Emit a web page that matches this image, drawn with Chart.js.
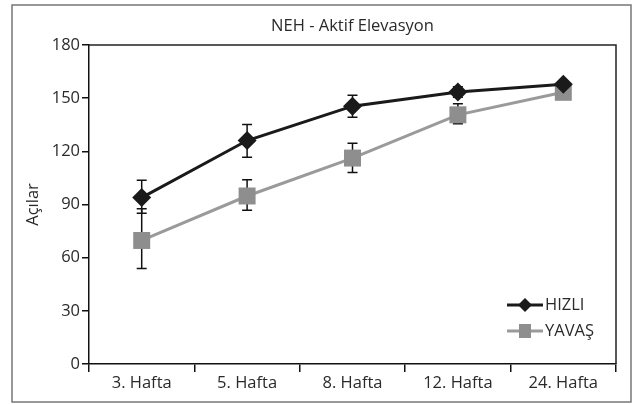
<!DOCTYPE html>
<html>
<head>
<meta charset="utf-8">
<script src="https://cdn.jsdelivr.net/npm/chart.js@4.4.1/dist/chart.umd.min.js"></script>
<style>
  html, body { margin: 0; padding: 0; background: #fff; }
  #wrap { width: 632px; height: 404px; position: relative; }
</style>
</head>
<body>
<div id="wrap"><canvas id="c" width="632" height="404"></canvas></div>
<script>
// Weeks after surgery and mean active elevation (degrees) with error limits
const weeks = ['3. Hafta', '5. Hafta', '8. Hafta', '12. Hafta', '24. Hafta'];

const hizli     = [93.9, 126.1, 145.5, 153.5, 157.8];
const hizliHigh = [103.7, 135.1, 151.6, 156.5, 159.5];
const hizliLow  = [85.0, 116.6, 139.3, 150.5, 156.0];

const yavas     = [69.7, 94.8, 116.2, 140.6, 153.3];
const yavasHigh = [87.6, 103.9, 124.5, 146.9, 155.5];
const yavasLow  = [53.9, 86.7, 108.1, 135.5, 151.0];

const yTicks = [0, 30, 60, 90, 120, 150, 180];

const chartTitle = 'NEH - Aktif Elevasyon';
const yTitle = 'Açılar';

const FONT = "'Open Sans', 'Noto Sans', sans-serif";
const FS = 16.5;
const TEXT = '#2a2a2a';

// Outer frame, plot box, error bars, title and inset legend
const decor = {
  id: 'decor',
  beforeDraw(chart) {
    const { ctx } = chart;
    ctx.save();
    ctx.fillStyle = '#fff';
    ctx.fillRect(0, 0, chart.width, chart.height);
    ctx.strokeStyle = '#777';
    ctx.lineWidth = 1.5;
    ctx.strokeRect(12, 5, 619, 397);
    ctx.restore();
  },
  beforeDatasetsDraw(chart) {
    const { ctx, chartArea: a, scales: { x, y } } = chart;
    ctx.save();
    // top and right edges of the plot box
    ctx.strokeStyle = '#222';
    ctx.lineWidth = 1.5;
    ctx.beginPath();
    ctx.moveTo(a.left, a.top);
    ctx.lineTo(a.right, a.top);
    ctx.lineTo(a.right, a.bottom);
    ctx.stroke();

    // title centred over the plot
    ctx.fillStyle = TEXT;
    ctx.font = FS + 'px ' + FONT;
    ctx.textAlign = 'center';
    ctx.textBaseline = 'middle';
    ctx.fillText(chartTitle, (a.left + a.right) / 2, 26);

    // error bars
    const cap = 5;
    ctx.strokeStyle = '#111';
    ctx.lineWidth = 1.5;
    const bars = [[hizliLow, hizliHigh], [yavasLow, yavasHigh]];
    bars.forEach(([lo, hi]) => {
      weeks.forEach((w, i) => {
        const px = x.getPixelForValue(i);
        const y1 = y.getPixelForValue(lo[i]);
        const y2 = y.getPixelForValue(hi[i]);
        ctx.beginPath();
        ctx.moveTo(px, y1); ctx.lineTo(px, y2);
        ctx.moveTo(px - cap, y1); ctx.lineTo(px + cap, y1);
        ctx.moveTo(px - cap, y2); ctx.lineTo(px + cap, y2);
        ctx.stroke();
      });
    });
    ctx.restore();
  },
  afterDatasetsDraw(chart) {
    const { ctx } = chart;
    ctx.save();
    const x0 = 507, x1 = 543, rows = [305, 331];
    chart.data.datasets.forEach((ds, i) => {
      const yy = rows[i];
      ctx.strokeStyle = ds.borderColor;
      ctx.lineWidth = ds.borderWidth;
      ctx.beginPath();
      ctx.moveTo(x0, yy); ctx.lineTo(x1, yy);
      ctx.stroke();
      const mx = (x0 + x1) / 2;
      ctx.fillStyle = ds.pointBackgroundColor;
      ctx.beginPath();
      if (ds.pointStyle === 'rectRot') {
        const r = 7;
        ctx.moveTo(mx, yy - r); ctx.lineTo(mx + r, yy);
        ctx.lineTo(mx, yy + r); ctx.lineTo(mx - r, yy);
        ctx.closePath();
      } else {
        ctx.rect(mx - 6, yy - 7, 12, 14);
      }
      ctx.fill();
      ctx.fillStyle = TEXT;
      ctx.font = FS + 'px ' + FONT;
      ctx.textAlign = 'left';
      ctx.textBaseline = 'middle';
      ctx.fillText(ds.label, x1 + 2, yy);
    });
    ctx.restore();
  }
};

new Chart(document.getElementById('c'), {
  type: 'line',
  data: {
    labels: weeks,
    datasets: [
      {
        label: 'HIZLI',
        data: hizli,
        borderColor: '#1a1a1a',
        backgroundColor: '#1a1a1a',
        pointBackgroundColor: '#1a1a1a',
        pointBorderColor: '#1a1a1a',
        borderWidth: 3,
        pointStyle: 'rectRot',
        pointRadius: 9.5,
        pointBorderWidth: 0,
        tension: 0
      },
      {
        label: 'YAVAŞ',
        data: yavas,
        borderColor: '#9a9a9a',
        backgroundColor: '#8e8e8e',
        pointBackgroundColor: '#8e8e8e',
        pointBorderColor: '#8e8e8e',
        borderWidth: 3,
        pointStyle: 'rect',
        pointRadius: 12,
        pointBorderWidth: 0,
        tension: 0
      }
    ]
  },
  options: {
    responsive: false,
    animation: false,
    devicePixelRatio: 1,
    layout: { padding: { left: 12, right: 16, top: 45, bottom: 0 } },
    plugins: {
      legend: { display: false },
      title: { display: false },
      tooltip: { enabled: false }
    },
    scales: {
      x: {
        offset: true,
        grid: {
          offset: true,
          drawOnChartArea: false,
          drawTicks: true,
          tickLength: 8,
          color: '#111',
          lineWidth: 1.5
        },
        border: { display: true, color: '#111', width: 1.5 },
        ticks: { color: TEXT, font: { family: FONT, size: FS }, padding: 1, maxRotation: 0 },
        afterFit(s) { s.height = 40; }
      },
      y: {
        min: 0,
        max: 180,
        afterBuildTicks(s) { s.ticks = yTicks.map(v => ({ value: v })); },
        grid: {
          drawOnChartArea: false,
          drawTicks: true,
          tickLength: 7,
          color: '#111',
          lineWidth: 1.5
        },
        border: { display: true, color: '#111', width: 1.5 },
        ticks: { color: TEXT, font: { family: FONT, size: FS }, padding: 2 },
        title: {
          display: true,
          text: yTitle,
          color: TEXT,
          font: { family: FONT, size: FS },
          padding: { top: 11, bottom: 0 }
        },
        afterFit(s) { s.width = 77; }
      }
    }
  },
  plugins: [decor]
});
</script>
</body>
</html>
